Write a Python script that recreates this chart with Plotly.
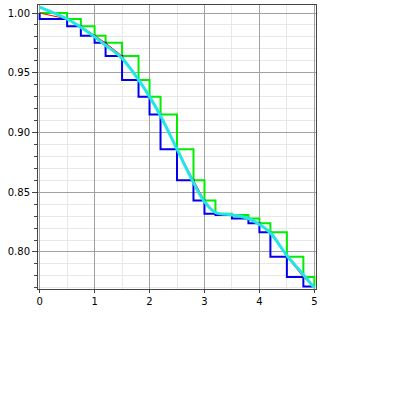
import plotly.graph_objects as go

# breakpoints of the step functions and the values at them
t = [0, 0.5, 0.75, 1.0, 1.2, 1.5, 1.8, 2.0, 2.2, 2.5, 2.8, 3.0, 3.2, 3.5, 3.8, 4.0, 4.2, 4.5, 4.8, 5.0]
f = [1.000, 0.995, 0.989, 0.981, 0.975, 0.964, 0.944, 0.930, 0.915, 0.886, 0.860,
     0.843, 0.832, 0.831, 0.828, 0.824, 0.8165, 0.796, 0.779, 0.771]

# smooth curve
cx = [0, 0.5, 0.75, 1.0, 1.2, 1.5, 1.8, 2.0, 2.2, 2.5, 2.8, 3.0, 3.2, 3.5, 3.8, 4.0, 4.2, 4.5, 4.8, 5.0]
cy = [1.005, 0.995, 0.988, 0.980, 0.973, 0.962, 0.944, 0.930, 0.914, 0.886, 0.858,
      0.842, 0.833, 0.831, 0.828, 0.823, 0.816, 0.797, 0.781, 0.770]

fig = go.Figure()
fig.add_trace(go.Scatter(x=t, y=f, mode="lines", line=dict(color="#00ee00", width=2, shape="hv")))
fig.add_trace(go.Scatter(x=t, y=f, mode="lines", line=dict(color="#0000ee", width=2, shape="vh")))
fig.add_trace(go.Scatter(x=t, y=f, mode="lines", line=dict(color="#ff0000", width=1)))
fig.add_trace(go.Scatter(x=cx, y=cy, mode="lines", line=dict(color="#22e6e6", width=3, shape="spline")))

fig.update_layout(
    width=395, height=395,
    margin=dict(l=38, r=79, t=5, b=106),
    paper_bgcolor="white", plot_bgcolor="white",
    showlegend=False,
    font=dict(family="DejaVu Sans", size=10, color="black"),
)
fig.update_xaxes(
    range=[-0.03, 5.03], tickvals=[0, 1, 2, 3, 4, 5], ticktext=["0", "1", "2", "3", "4", "5"],
    showgrid=True, gridcolor="#a0a0a0", gridwidth=1,
    minor=dict(tickvals=[0.5, 1.5, 2.5, 3.5, 4.5], showgrid=True, gridcolor="#e8e8e8", ticks=""),
    showline=True, linecolor="#444444", linewidth=1, mirror=True,
    ticks="outside", ticklen=3, tickcolor="#444444", zeroline=False, automargin=False,
)
fig.update_yaxes(
    range=[0.769, 1.0067], tickvals=[0.80, 0.85, 0.90, 0.95, 1.00],
    ticktext=["0.80", "0.85", "0.90", "0.95", "1.00"],
    showgrid=True, gridcolor="#a0a0a0", gridwidth=1,
    minor=dict(dtick=0.01, showgrid=True, gridcolor="#e8e8e8", ticks="outside", ticklen=3, tickcolor="#444444"),
    showline=True, linecolor="#444444", linewidth=1, mirror=True,
    ticks="outside", ticklen=5, tickcolor="#444444", zeroline=False, automargin=False,
)
fig.write_html("out.html", post_script="document.body.style.margin='0';",
               config={"displayModeBar": False, "staticPlot": True})
